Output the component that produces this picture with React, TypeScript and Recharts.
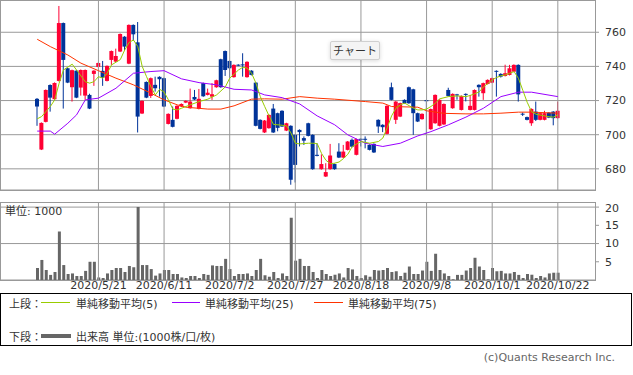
import React from 'react';
import { ComposedChart, Bar, Line, XAxis, YAxis, CartesianGrid, ReferenceLine } from 'recharts';

// daily candles, oldest first
const opens = [
  721, 691.3, 707.5, 729.1, 720.8, 731.5, 765.4, 738.9, 727.8, 737.5,
  727.6, 722.9, 723.3, 735.6, 739.7, 737.4, 731.5, 743.8, 742.8, 748.7,
  757.4, 741.6, 764.3, 754.1, 712.4, 730.9, 722.7, 729.2, 733.9, 733.1,
  706.3, 708.7, 709.3, 716.5, 718.8, 715.5, 722.1, 715.1, 730.2, 723.3,
  722.3, 727.8, 744.2, 749, 743.2, 733.7, 741, 741.2, 733.7, 737.5,
  730.5, 708.7, 701.3, 703.8, 715.3, 712.6, 714, 702.4, 705.2, 699.9,
  702.8, 698, 706.7, 699.9, 688.2, 679.8, 675.5, 679.8, 682.8, 690.1,
  686.6, 691.1, 697, 688.2, 697.6, 697.6, 694, 694.6, 708.7, 705.8,
  700.5, 727.8, 708.7, 710.6, 720.4, 727.8, 726.6, 712.6, 709.1, 720.2,
  703.2, 706.7, 705.2, 706, 726.2, 715.5, 723.6, 714.5, 723.9, 714.5,
  714.5, 729.2, 724.3, 729.7, 730.5, 737.4, 735.6, 734.4, 735, 736.9,
  740.9, 712.3, 710.3, 706.7, 713.5, 708.7, 708.7, 712.9, 713.5, 709.7,
];
const highs = [
  721.5, 707.2, 726.5, 729.5, 730.6, 775.4, 765.7, 739.2, 738.1, 737.8,
  738.2, 738.2, 724, 737.8, 742.3, 743.2, 740.6, 749.3, 750.4, 759.3,
  757.7, 764.6, 764.6, 766, 720.1, 731.2, 733.5, 734, 734.2, 733.4,
  712.5, 716.5, 717.2, 718.3, 720.1, 727, 726.2, 726.8, 730.5, 727,
  730.2, 732.2, 744.5, 749.3, 743.5, 741.2, 741.3, 747.7, 743, 737.8,
  730.8, 709, 708.6, 711.9, 718, 712.9, 714.3, 707, 705.5, 700.2,
  703.1, 699, 707, 700.2, 695, 688.5, 683.3, 694.6, 683.1, 695,
  694, 696.3, 697.8, 697.7, 697.8, 699, 694.3, 694.9, 709, 706.1,
  717.2, 730.5, 719.7, 718.8, 720.7, 728.2, 726.9, 712.9, 712.5, 720.5,
  715.3, 723.6, 720.7, 718.3, 727.5, 724.2, 723.9, 723, 724.2, 723.3,
  726.5, 729.5, 730.5, 732.4, 733.4, 737.7, 736, 741, 740.9, 741.2,
  741.2, 713, 710.6, 715.4, 719.4, 712.9, 714, 713.2, 713.8, 719.4,
];
const lows = [
  705.2, 691, 707.2, 713.5, 720.5, 731.2, 715.3, 730.2, 719.4, 721.4,
  722.9, 720.4, 715, 728.6, 739.4, 728.6, 731.2, 740.9, 742.5, 748.4,
  749.6, 741.3, 755, 701.3, 712.1, 721.4, 721.5, 725.2, 722.3, 716.2,
  706, 704.3, 709, 716.2, 718.5, 715.2, 720.3, 714.8, 722.2, 723,
  720.4, 727.5, 727.5, 734.4, 733.4, 733.4, 740.2, 734, 733.4, 734.7,
  704.9, 703.1, 701, 703.5, 701, 702, 704.5, 702.1, 670.7, 672,
  693.1, 694, 699, 679.5, 687.3, 679.5, 675.2, 679.5, 679.5, 686.3,
  686.3, 690.8, 692.5, 687.9, 693.1, 692, 690.8, 689.3, 701, 701.5,
  700.2, 720.1, 706.3, 710.3, 718.2, 718.1, 699.9, 707.4, 708.8, 700,
  702.9, 706.4, 704.9, 705.7, 722.4, 715.2, 720.5, 714.2, 719.5, 714.2,
  714.2, 722.3, 720.4, 729.4, 730.2, 722.3, 733.5, 734.1, 734.7, 736.6,
  719.4, 711, 708.4, 705.2, 708, 708.4, 708.4, 709.7, 705.5, 709.4,
];
const closes = [
  716.5, 706.9, 726.2, 721.7, 730.3, 765.4, 743.8, 730.5, 737.8, 721.7,
  737.9, 737.9, 715.3, 737.5, 742, 733.4, 740.3, 749, 746.1, 759,
  751.6, 764.3, 758.8, 710.6, 719.8, 721.7, 733.1, 727.2, 732.5, 716.5,
  712.2, 704.6, 716.9, 718, 719.8, 719.4, 720.6, 721, 722.5, 724.6,
  723.7, 731.9, 727.8, 737.9, 738.9, 740.9, 740.5, 740.6, 742.7, 735,
  705.2, 703.4, 708.3, 711.6, 701.3, 704, 704.8, 706.7, 673.6, 682.3,
  701.5, 696.5, 699.3, 679.8, 687.6, 682.8, 678.1, 687.8, 679.8, 686.6,
  690.1, 696, 693, 697.4, 697.2, 697.2, 691.1, 689.6, 704.8, 704.4,
  716.9, 720.4, 719.4, 718.5, 718.5, 718.4, 712.6, 707.7, 712.2, 719.8,
  715, 723.3, 720.4, 718, 722.7, 723.9, 723.2, 722.7, 723.5, 716.9,
  726.2, 727.8, 730.2, 732.1, 733.1, 737, 734, 736, 738.9, 740.9,
  723.6, 711.8, 708.7, 715.1, 708.7, 712.6, 712.6, 710, 709.7, 714,
];
// volume, unit 1000
const volumes = [
  3.3, 5.5, 2.75, 1.4, 2.2, 13.3, 4.1, 1.65, 1.8, 1.1,
  1.1, 2.5, 5.0, 5.0, 0.7, 0.55, 1.8, 2.75, 3.3, 3.3,
  2.2, 3.85, 3.5, 20, 4.1, 4.1, 3.0, 1.2, 1.8, 2.75,
  2.75, 1.65, 1.65, 0.7, 0.55, 1.1, 1.1, 0.55, 1.65, 1.4,
  4.0, 3.85, 3.85, 5.8, 3.0, 1.1, 1.65, 1.65, 1.8, 1.1,
  2.75, 5.8, 1.3, 0.9, 2.2, 0.55, 1.8, 1.1, 17.1, 5.3,
  5.8, 3.85, 3.85, 2.2, 0.55, 2.75, 1.65, 1.1, 1.45, 1.8,
  0.7, 3.3, 2.9, 1.1, 0.55, 1.3, 0.9, 2.75, 2.6, 2.75,
  3.3, 2.2, 2.4, 1.1, 2.0, 3.7, 1.65, 1.65, 2.6, 5.0,
  2.5, 7.2, 2.75, 1.8, 1.1, 0.2, 1.4, 1.4, 2.6, 3.3,
  6.1, 3.7, 2.75, 0.2, 3.3, 2.4, 2.5, 1.8, 1.8, 2.2,
  1.4, 0.55, 1.65, 1.45, 0.55, 1.1, 0.7, 1.8, 2.0, 2.0,
];

// moving averages: [candle index, value]
const ma5Points: [number, number][] = [
  [0, 709.3], [1, 710.6], [3, 716.5], [4, 720.4], [5, 730], [6, 737.9], [8, 741.3], [9, 737.9],
  [11, 731], [12, 730.2], [13, 731.1], [14, 734], [15, 733.1], [16, 736], [17, 740.9], [19, 744],
  [20, 749.6], [21, 754], [22, 755.5], [23, 751.6], [24, 740], [25, 734], [26, 728], [27, 723.3],
  [28, 726.6], [29, 725], [30, 720.4], [31, 715], [32, 714.5], [33, 715.5], [35, 717.5], [37, 719.4],
  [39, 720.8], [41, 723.3], [43, 728], [44, 733.1], [46, 737.9], [47, 739.5], [48, 739], [49, 736],
  [50, 730.2], [51, 722.3], [52, 716.5], [53, 711], [54, 706], [55, 705.8], [56, 705.5], [57, 705.2],
  [58, 701], [59, 695], [60, 694.6], [62, 695], [63, 695], [64, 694.8], [65, 689], [66, 685],
  [67, 683], [68, 683.3], [69, 684], [70, 686], [71, 688.5], [72, 693], [73, 694.5], [74, 696],
  [76, 695], [78, 696], [79, 698], [80, 704], [81, 711], [82, 715.5], [83, 717.5], [84, 718.5],
  [85, 717], [86, 715.5], [87, 714.5], [88, 714.5], [89, 715], [90, 716.5], [91, 718.5], [92, 721],
  [94, 722.3], [96, 722.7], [97, 722.5], [98, 722.3], [99, 723], [100, 724], [101, 725], [102, 728],
  [103, 730], [104, 732.1], [105, 733.5], [106, 734.5], [107, 735], [108, 736], [109, 737], [110, 733],
  [111, 726], [112, 719], [113, 713.5], [114, 712], [115, 711.5], [116, 711], [117, 710.5], [118, 710.3],
  [119, 711.6],
];
const ma25Points: [number, number][] = [
  [0, 702.1], [3, 702.1], [4, 700.3], [7, 706.7], [9, 711.6], [11, 720.4], [14, 721.4], [18, 727.2],
  [22, 736], [26, 737], [29, 737.5], [33, 732.7], [37, 730.5], [41, 729.2], [45, 726.6], [49, 726.2],
  [52, 723.3], [56, 721.7], [60, 718], [64, 711], [68, 705.8], [71, 699.9], [75, 695], [79, 693.1],
  [83, 695], [87, 699.3], [90, 701.8], [94, 705.8], [98, 710.3], [102, 715.5], [106, 722.3], [110, 724.9],
  [113, 724.9], [119, 722.3],
];
const ma75Points: [number, number][] = [
  [0, 755.9], [3, 751.6], [7, 746.7], [10, 741.9], [14, 737.5], [18, 733.1], [22, 729.2], [26, 724.3],
  [29, 720.4], [32, 717.5], [34, 716.1], [39, 715], [42, 715], [45, 716.9], [49, 720.8], [52, 721],
  [56, 720.8], [60, 722.3], [64, 721.4], [68, 720.8], [75, 719.4], [79, 718.5], [81, 716.5], [87, 716.1],
  [89, 714], [93, 712.5], [98, 712.2], [102, 712.2], [106, 712.6], [110, 713.2], [113, 713.2], [119, 712.6],
];

const dateLabels = ['2020/5/21', '2020/6/11', '2020/7/2', '2020/7/27', '2020/8/18', '2020/9/8', '2020/10/1', '2020/10/22'];
const dateIndex = [14, 29, 44, 59, 74, 89, 104, 119];
const priceTicks = [680, 700, 720, 740, 760];
const volumeTicks = [5, 10, 15, 20];

const LEAD = 8;
const SLOTS = 136;
const RED = '#ff0033';
const BLUE = '#003399';
const GRID = '#999';
const FONT = "'DejaVu Sans', 'Noto Sans CJK JP', sans-serif";

const toMap = (pts: [number, number][]) => new Map(pts.map(([i, v]) => [i, v]));

const buildRows = () => {
  const m5 = toMap(ma5Points);
  const m25 = toMap(ma25Points);
  const m75 = toMap(ma75Points);
  const rows: any[] = [];
  for (let k = 0; k < SLOTS; k++) {
    const i = k - LEAD;
    const has = i >= 0 && i < closes.length;
    rows.push({
      k,
      o: has ? opens[i] : null,
      h: has ? highs[i] : null,
      l: has ? lows[i] : null,
      c: has ? closes[i] : null,
      vol: has ? volumes[i] : null,
      ma5: m5.has(i) ? m5.get(i) : null,
      ma25: m25.has(i) ? m25.get(i) : null,
      ma75: m75.has(i) ? m75.get(i) : null,
    });
  }
  return rows;
};

const gridSlots = dateIndex.map(i => i + LEAD);
const labelFor = (k: number) => {
  const n = gridSlots.indexOf(k);
  return n >= 0 ? dateLabels[n] : '';
};

const candleRange = (d: any) => (d.h == null ? null : [d.l, d.h]);

const Candle = (props: any) => {
  const { x, y, width, height, payload } = props;
  if (!payload || payload.h == null || !isFinite(height)) return <g />;
  const { o, h, l, c } = payload;
  const ppu = height / (h - l);
  const color = c >= o ? RED : BLUE;
  const top = y + (h - Math.max(o, c)) * ppu;
  const bot = y + (h - Math.min(o, c)) * ppu;
  const cx = x + width / 2;
  return (
    <g>
      <line x1={cx} x2={cx} y1={y} y2={y + height} stroke={color} strokeWidth={1} />
      <rect x={x} y={top} width={width} height={Math.max(1, bot - top)} fill={color} />
    </g>
  );
};

const tickStyle = { fontSize: 11, fill: '#333' };

export default function App() {
  const rows = buildRows();
  return (
    <div style={{ position: 'absolute', left: 0, top: 0, width: 633, height: 375, background: '#fff', fontFamily: FONT, color: '#333' }}>
      {/* price panel */}
      <div style={{ position: 'absolute', left: 0, top: 0 }}>
        <ComposedChart width={633} height={190} data={rows} margin={{ top: 0, right: 0, bottom: 0, left: 0 }}>
          <XAxis dataKey="k" type="category" hide />
          <YAxis orientation="right" width={38} domain={[667.6, 778.9]} ticks={priceTicks} allowDataOverflow
            axisLine={false} tickLine={{ stroke: GRID }} tickSize={4} tickMargin={6} tick={tickStyle} />
          <CartesianGrid vertical={false} stroke={GRID} />
          {gridSlots.map(k => <ReferenceLine key={k} x={k} stroke={GRID} />)}
          <Bar dataKey={candleRange} shape={Candle} barSize={4} isAnimationActive={false} />
          <Line dataKey="ma75" stroke="#ff3300" dot={false} connectNulls strokeWidth={1} isAnimationActive={false} />
          <Line dataKey="ma25" stroke="#9900ff" dot={false} connectNulls strokeWidth={1} isAnimationActive={false} />
          <Line dataKey="ma5" stroke="#99cc00" dot={false} connectNulls strokeWidth={1} isAnimationActive={false} />
        </ComposedChart>
      </div>
      <div style={{ position: 'absolute', left: 0, top: 0, width: 596, height: 191, border: `1px solid ${GRID}`, boxSizing: 'border-box', pointerEvents: 'none' }} />

      <div style={{ position: 'absolute', left: 330, top: 41, width: 50, height: 19, background: '#f4f4f4', border: '1px solid #d0d0d0', borderRadius: 2, boxShadow: '0 1px 4px rgba(0,0,0,0.15)', fontSize: 11, lineHeight: '19px', textAlign: 'center', boxSizing: 'border-box' }}>チャート</div>

      {/* volume panel */}
      <div style={{ position: 'absolute', left: 0, top: 202 }}>
        <ComposedChart width={633} height={100} data={rows} margin={{ top: 0, right: 0, bottom: 0, left: 0 }}>
          <XAxis dataKey="k" type="category" ticks={gridSlots} interval={0} tickFormatter={labelFor}
            axisLine={false} tickLine={false} tickSize={0} tickMargin={1} height={22} tick={tickStyle} />
          <YAxis orientation="right" width={38} domain={[0, 21.4]} ticks={volumeTicks} allowDataOverflow
            axisLine={false} tickLine={{ stroke: GRID }} tickSize={4} tickMargin={6} tick={tickStyle} />
          <CartesianGrid vertical={false} stroke={GRID} />
          {gridSlots.map(k => <ReferenceLine key={k} x={k} stroke={GRID} />)}
          <Bar dataKey="vol" fill="#666" barSize={3} isAnimationActive={false} />
        </ComposedChart>
      </div>
      <div style={{ position: 'absolute', left: 0, top: 202, width: 596, height: 79, border: `1px solid ${GRID}`, boxSizing: 'border-box', pointerEvents: 'none' }} />
      <div style={{ position: 'absolute', left: 5, top: 202, fontSize: 11 }}>単位: 1000</div>

      {/* legend */}
      <div style={{ position: 'absolute', left: 0, top: 293, width: 632, height: 53, border: '1px solid #000', boxSizing: 'border-box', fontSize: 11 }}>
        <div style={{ position: 'absolute', left: 8, top: 1 }}>上段：</div>
        <div style={{ position: 'absolute', left: 40, top: 8, width: 29, height: 1, background: '#99cc00' }} />
        <div style={{ position: 'absolute', left: 75, top: 1 }}>単純移動平均(5)</div>
        <div style={{ position: 'absolute', left: 171, top: 8, width: 28, height: 1, background: '#9900ff' }} />
        <div style={{ position: 'absolute', left: 204, top: 1 }}>単純移動平均(25)</div>
        <div style={{ position: 'absolute', left: 313, top: 8, width: 29, height: 1, background: '#ff3300' }} />
        <div style={{ position: 'absolute', left: 347, top: 1 }}>単純移動平均(75)</div>
        <div style={{ position: 'absolute', left: 8, top: 34 }}>下段：</div>
        <div style={{ position: 'absolute', left: 40, top: 40, width: 30, height: 4, background: '#666' }} />
        <div style={{ position: 'absolute', left: 75, top: 34 }}>出来高 単位:(1000株/口/枚)</div>
      </div>
      <div style={{ position: 'absolute', right: 18, top: 351, fontSize: 11, color: '#666' }}>(c)Quants Research Inc.</div>
    </div>
  );
}
